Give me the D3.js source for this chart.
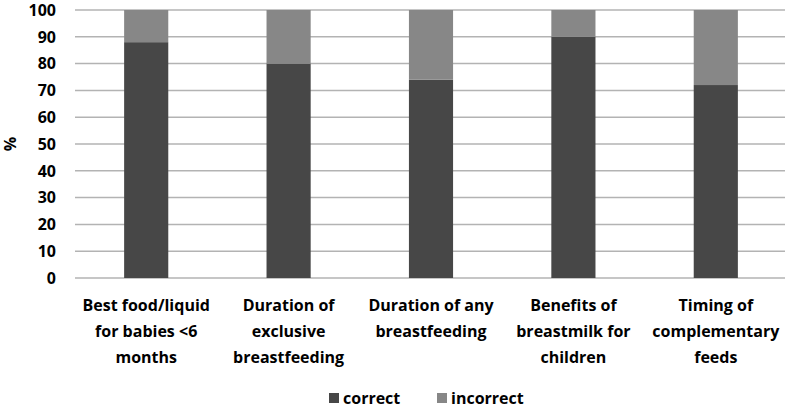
<!DOCTYPE html>
<html>
<head>
<meta charset="utf-8">
<script src="https://cdn.jsdelivr.net/npm/d3@7"></script>
<style>
  body { margin: 0; background: #fff; }
  text { font-family: "Open Sans", "Liberation Sans", sans-serif; font-weight: bold; fill: #000; }
</style>
</head>
<body>
<div id="chart"></div>
<script>
const categories = [
  ["Best food/liquid", "for babies <6", "months"],
  ["Duration of", "exclusive", "breastfeeding"],
  ["Duration of any", "breastfeeding"],
  ["Benefits of", "breastmilk for", "children"],
  ["Timing of", "complementary", "feeds"]
];
const correct = [88, 80, 74, 90, 72];
const incorrect = [12, 20, 26, 10, 28];
const yTicks = [0, 10, 20, 30, 40, 50, 60, 70, 80, 90, 100];
const seriesNames = ["correct", "incorrect"];
const colors = ["#474747", "#878787"];

const width = 787, height = 412;
const margin = { left: 75, right: 0, top: 10, bottom: 134 };

const svg = d3.select("#chart").append("svg")
  .attr("width", width)
  .attr("height", height);

const x = d3.scaleBand()
  .domain(d3.range(categories.length))
  .range([margin.left, width - margin.right])
  .paddingInner(0.69)
  .paddingOuter(0.345);

const y = d3.scaleLinear()
  .domain([0, 100])
  .range([height - margin.bottom, margin.top]);

// grid
svg.append("g")
  .selectAll("line")
  .data(yTicks)
  .join("line")
  .attr("x1", margin.left)
  .attr("x2", width - margin.right - 2)
  .attr("y1", d => y(d))
  .attr("y2", d => y(d))
  .attr("stroke", "#b3b3b3")
  .attr("stroke-width", 1.5);

// y tick labels
svg.append("g")
  .selectAll("text")
  .data(yTicks)
  .join("text")
  .attr("x", 56)
  .attr("y", d => y(d))
  .attr("dy", "0.36em")
  .attr("text-anchor", "end")
  .attr("font-size", 16)
  .text(d => d);

// y axis title
svg.append("text")
  .attr("transform", `translate(16,${y(50)}) rotate(-90)`)
  .attr("text-anchor", "middle")
  .attr("font-size", 16)
  .text("%");

// stacked bars
const rows = categories.map((c, i) => ({ i, correct: correct[i], incorrect: incorrect[i] }));
const stacked = d3.stack().keys(seriesNames)(rows);

svg.append("g")
  .selectAll("g")
  .data(stacked)
  .join("g")
  .attr("fill", (d, k) => colors[k])
  .selectAll("rect")
  .data(d => d)
  .join("rect")
  .attr("x", d => x(d.data.i))
  .attr("width", x.bandwidth())
  .attr("y", d => y(d[1]))
  .attr("height", d => y(d[0]) - y(d[1]));

// category labels
const lab = svg.append("g")
  .selectAll("text")
  .data(categories)
  .join("text")
  .attr("text-anchor", "middle")
  .attr("font-size", 16)
  .attr("x", (d, i) => x(i) + x.bandwidth() / 2)
  .attr("y", 311);
lab.selectAll("tspan")
  .data(d => d)
  .join("tspan")
  .attr("x", function () { return this.parentNode.getAttribute("x"); })
  .attr("dy", (d, j) => j === 0 ? 0 : 26)
  .text(d => d);

// legend
const legendX = [329, 437];
const lg = svg.append("g")
  .selectAll("g")
  .data(seriesNames)
  .join("g")
  .attr("transform", (d, k) => `translate(${legendX[k]},398)`);
lg.append("rect")
  .attr("x", 0).attr("y", -5)
  .attr("width", 10).attr("height", 10)
  .attr("fill", (d, k) => colors[k]);
lg.append("text")
  .attr("x", 14)
  .attr("dy", "0.36em")
  .attr("font-size", 16)
  .text(d => d);
</script>
</body>
</html>
